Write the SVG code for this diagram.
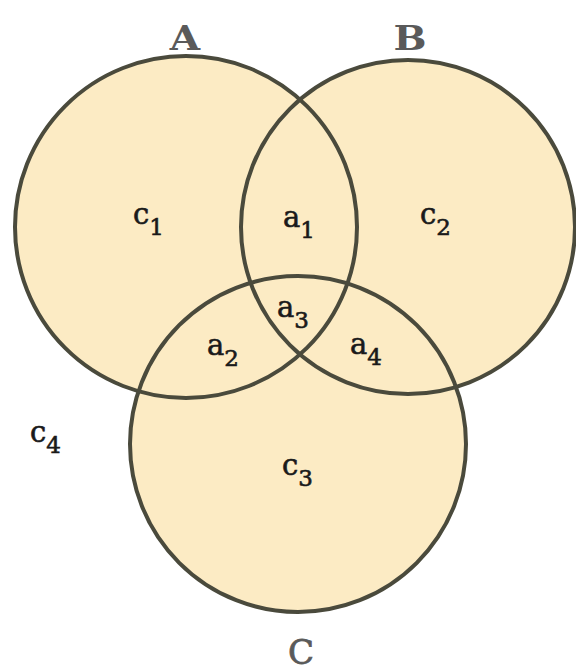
<svg xmlns="http://www.w3.org/2000/svg" width="576" height="672" viewBox="0 0 576 672">
<style>
.fill{fill:#fcebc4;stroke:none}
.ring{fill:none;stroke:#4a4a3c;stroke-width:4}
.set{font-family:"DejaVu Serif","Liberation Serif",serif;font-size:34px;font-weight:bold;fill:#5a5a5a;text-anchor:middle}
.lbl{font-family:"DejaVu Serif","Liberation Serif",serif;font-size:29px;fill:#1a1a1a;stroke:#1a1a1a;stroke-width:0.6}
.sub{font-size:23px}
</style>
<rect width="576" height="672" fill="#fff"/>
<g id="circleA"><circle class="fill" cx="186" cy="227" r="171"/></g>
<g id="circleB"><circle class="fill" cx="408" cy="227" r="167"/></g>
<g id="circleC"><circle class="fill" cx="298" cy="444" r="168"/></g>
<g id="outlines">
<circle class="ring" cx="186" cy="227" r="171"/>
<circle class="ring" cx="408" cy="227" r="167"/>
<circle class="ring" cx="298" cy="444" r="168"/>
</g>
<g id="setLabels">
<text class="set" x="185" y="50" transform="translate(185 0) scale(1.15 1) translate(-185 0)">A</text>
<text class="set" x="410" y="50" transform="translate(410 0) scale(1.15 1) translate(-410 0)">B</text>
<text class="set" x="301" y="664" style="font-weight:normal;font-size:34px;stroke:#5a5a5a;stroke-width:0.8">C</text>
</g>
<g id="regionLabels">
<text class="lbl" x="133" y="224">c<tspan class="sub" dy="11">1</tspan></text>
<text class="lbl" x="283" y="227">a<tspan class="sub" dy="11">1</tspan></text>
<text class="lbl" x="420" y="224">c<tspan class="sub" dy="11">2</tspan></text>
<text class="lbl" x="277" y="317">a<tspan class="sub" dy="11">3</tspan></text>
<text class="lbl" x="207" y="355">a<tspan class="sub" dy="11">2</tspan></text>
<text class="lbl" x="350" y="354">a<tspan class="sub" dy="11">4</tspan></text>
<text class="lbl" x="30" y="442">c<tspan class="sub" dy="11">4</tspan></text>
<text class="lbl" x="282" y="475">c<tspan class="sub" dy="11">3</tspan></text>
</g>
</svg>
